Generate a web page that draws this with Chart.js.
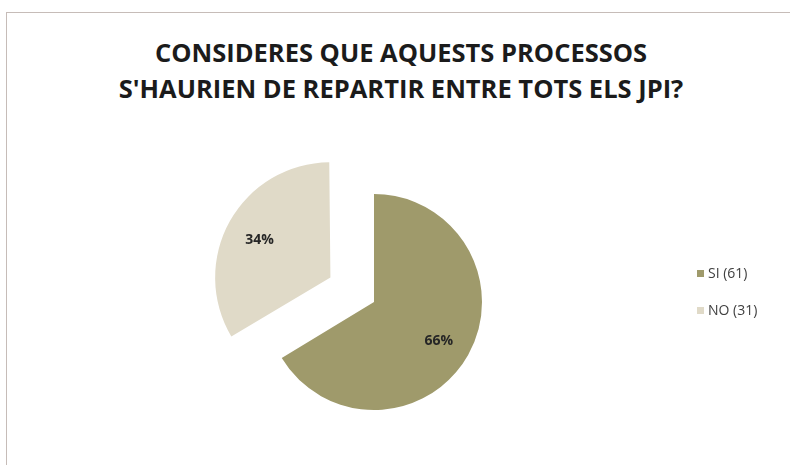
<!DOCTYPE html>
<html>
<head>
<meta charset="utf-8">
<script src="https://cdn.jsdelivr.net/npm/chart.js@4.4.1/dist/chart.umd.min.js"></script>
<style>
  html, body { margin: 0; padding: 0; background: #fff; overflow: hidden; }
  #frame {
    position: absolute; left: 6px; top: 12px; width: 800px; height: 470px;
    border-left: 1px solid #c6bcb8; border-top: 1px solid #c6bcb8;
  }
  #pie { position: absolute; left: 0; top: 0; }
  #title {
    position: absolute; left: 6px; top: 34px; width: 790px; margin: 0;
    text-align: center; font-family: "Open Sans", sans-serif; font-weight: bold;
    font-size: 25.5px; line-height: 36px; color: #1b1b1b; white-space: nowrap;
  }
  #legend {
    position: absolute; left: 697px; top: 262px; margin: 0; padding: 0; list-style: none;
    font-family: "Open Sans", sans-serif; font-size: 14px; color: #404040;
  }
  #legend li { height: 22px; line-height: 22px; margin-bottom: 15px; white-space: nowrap; }
  #legend span { display: inline-block; width: 7px; height: 7px; margin-right: 4px; vertical-align: 1px; }
</style>
</head>
<body>
<div id="frame"></div>
<div id="title"></div>
<canvas id="pie" width="790" height="465"></canvas>
<ul id="legend"></ul>
<script>
  const categories = ["SI", "NO"];
  const counts = [61, 31];
  const titleLines = ["CONSIDERES QUE AQUESTS PROCESSOS", "S'HAURIEN DE REPARTIR ENTRE TOTS ELS JPI?"];

  const colors = ["#9f9a6b", "#e0dac8"];
  const total = counts.reduce((a, b) => a + b, 0);
  const legendNames = categories.map((c, i) => c + " (" + counts[i] + ")");

  document.getElementById("title").innerHTML = titleLines.join("<br>");

  // percentage text on each slice
  const pctLabels = {
    id: "pctLabels",
    afterDatasetsDraw(chart) {
      const meta = chart.getDatasetMeta(0);
      const ctx = chart.ctx;
      ctx.save();
      ctx.font = "bold 14px 'Open Sans'";
      ctx.fillStyle = "#262626";
      ctx.textAlign = "center";
      ctx.textBaseline = "middle";
      meta.data.forEach((arc, i) => {
        const mid = (arc.startAngle + arc.endAngle) / 2;
        const shift = (arc.options.offset || 0) / 4;
        const r = arc.outerRadius * 0.72 + shift;
        const pct = Math.round(counts[i] / total * 100) + "%";
        ctx.fillText(pct, arc.x + Math.cos(mid) * r - 3, arc.y + Math.sin(mid) * r + 1);
      });
      ctx.restore();
    }
  };

  new Chart(document.getElementById("pie"), {
    type: "pie",
    data: {
      labels: legendNames,
      datasets: [{
        data: counts,
        backgroundColor: colors,
        borderWidth: 0,
        offset: [0, 200],
        radius: 108,
        clip: false
      }]
    },
    options: {
      responsive: false,
      animation: false,
      events: [],
      layout: { padding: { left: 0, right: 42, top: 139, bottom: 0 } },
      plugins: {
        legend: { display: false },
        tooltip: { enabled: false },
        title: { display: false }
      }
    },
    plugins: [pctLabels]
  });

  const ul = document.getElementById("legend");
  legendNames.forEach((name, i) => {
    const li = document.createElement("li");
    const sw = document.createElement("span");
    sw.style.background = colors[i];
    li.appendChild(sw);
    li.appendChild(document.createTextNode(name));
    ul.appendChild(li);
  });
</script>
</body>
</html>
